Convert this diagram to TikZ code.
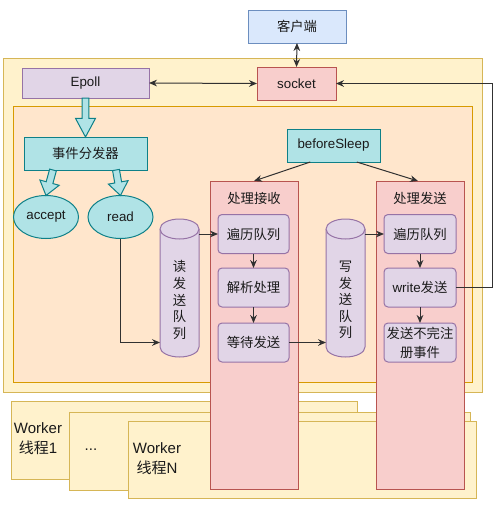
\documentclass[tikz,border=0pt]{standalone}
\usepackage{fontspec}
\setmainfont{Liberation Sans}
\newfontfamily\cjk{Noto Sans CJK SC}
\usetikzlibrary{calc,arrows.meta,shapes.geometric}
\definecolor{yfill}{HTML}{FFF2CC}\definecolor{ydraw}{HTML}{D6B656}
\definecolor{ofill}{HTML}{FFE6CC}\definecolor{odraw}{HTML}{D79B00}
\definecolor{pfill}{HTML}{E1D5E7}\definecolor{pdraw}{HTML}{9673A6}
\definecolor{rfill}{HTML}{F8CECC}\definecolor{rdraw}{HTML}{B85450}
\definecolor{tfill}{HTML}{B0E3E6}\definecolor{tdraw}{HTML}{0E8088}
\definecolor{bfill}{HTML}{DAE8FC}\definecolor{bdraw}{HTML}{6C8EBF}
\definecolor{ink}{HTML}{1A1A1A}
\tikzset{
  every node/.style={inner sep=0pt, outer sep=0pt, text=ink},
  bx/.style={draw, line width=0.75pt, font=\fontsize{10}{13}\selectfont},
  sz/.style 2 args={minimum width={#1*0.75pt}, minimum height={#2*0.75pt}},
  yel/.style={bx, fill=yfill, draw=ydraw},
  org/.style={bx, fill=ofill, draw=odraw},
  pur/.style={bx, fill=pfill, draw=pdraw},
  rnd/.style={pur, rounded corners=3pt},
  red/.style={bx, fill=rfill, draw=rdraw},
  tea/.style={bx, fill=tfill, draw=tdraw},
  blu/.style={bx, fill=bfill, draw=bdraw},
  lab/.style={font=\fontsize{10}{13}\selectfont},
  wlab/.style={font=\fontsize{11.25}{15}\selectfont, align=center},
  vlab/.style={font=\fontsize{10}{12.4}\selectfont\cjk, align=center},
  arr/.style={-{Stealth[length=6pt,width=5pt]}, line width=0.75pt, draw=ink!90},
  darr/.style={{Stealth[length=6pt,width=5pt]}-{Stealth[length=6pt,width=5pt]}, line width=0.75pt, draw=ink!90},
  flex/.style={fill=tfill, draw=tdraw, line width=0.75pt, line join=miter}
}
\newcommand\flexarrow[3]{%
  \coordinate (fa-h) at ($(#2)!#3!(#1)$);
  \filldraw[flex] ($(#1)!2.6pt!90:(#2)$) -- ($(fa-h)!2.6pt!-90:(#1)$) -- ($(fa-h)!7.5pt!-90:(#1)$) -- (#2)
     -- ($(fa-h)!7.5pt!90:(#1)$) -- ($(fa-h)!2.6pt!90:(#1)$) -- ($(#1)!2.6pt!-90:(#2)$) -- cycle;}
\newcommand\cylshape[1]{%
  \filldraw[pur] ($(#1.north west)+(0,10)$) -- ($(#1.south west)+(0,-10)$)
    arc[start angle=180,end angle=360,x radius=14.625pt,y radius=7.5pt]
    -- ($(#1.north east)+(0,10)$)
    arc[start angle=0,end angle=180,x radius=14.625pt,y radius=7.5pt] -- cycle;
  \draw[pur] ($(#1.north west)+(0,10)$) arc[start angle=180,end angle=360,x radius=14.625pt,y radius=7.5pt];}
\begin{document}
\begin{tikzpicture}[x=0.75pt,y=-0.75pt]
\useasboundingbox (0,0) rectangle (500,511);
% worker threads
\node[yel, sz={346}{78}] (w1) at (184,440) {};
\node[yel, sz={401}{78}] (w2) at (269.5,451) {};
\node[yel, sz={348}{77}] (w3) at (302,459.5) {};
\node[wlab] (w1t) at (38,439) {Worker\\{\cjk 线程}1};
\node[wlab] (w2t) at (91,450) {...};
\node[wlab] (w3t) at (157,458.5) {Worker\\{\cjk 线程}N};
% frames
\node[yel, sz={479}{334}] (outer) at (242.5,225) {};
\node[org, sz={459}{276}] (inner) at (242.5,244) {};
% top
\node[blu, sz={98}{33}] (client) at (297,26.5) {\cjk 客户端};
\node[red, sz={79}{33}] (socket) at (296.5,83.5) {socket};
\node[pur, sz={127}{30}] (epoll) at (85.5,83) {Epoll};
\node[tea, sz={123}{33}] (disp) at (85.5,153.5) {\cjk 事件分发器};
\node[tea, ellipse, sz={65}{43}] (accept) at (46,217) {accept};
\node[tea, ellipse, sz={65}{43}] (read) at (120.5,217) {read};
\node[tea, sz={93}{33}] (bs) at (333.5,145.5) {beforeSleep};
% processing boxes
\node[red, sz={88}{308}] (recv) at (254,335) {};
\node[red, sz={88}{308}] (send) at (420,335) {};
\node[lab] (recvt) at (254,198) {\cjk 处理接收};
\node[lab] (sendt) at (420,198) {\cjk 处理发送};
\node[rnd, sz={71}{39}] (r1) at (253.5,234) {\cjk 遍历队列};
\node[rnd, sz={71}{39}] (r2) at (253.5,287.5) {\cjk 解析处理};
\node[rnd, sz={71}{39}] (r3) at (253.5,342.5) {\cjk 等待发送};
\node[rnd, sz={72}{39}] (s1) at (420,234) {\cjk 遍历队列};
\node[rnd, sz={72}{39}] (s2) at (420,287.5) {write{\cjk 发送}};
\node[rnd, sz={72}{39}, align=center, font=\fontsize{10}{14.3}\selectfont\cjk] (s3) at (420,342.5) {发送不完注\\册事件};
% queues
\node[sz={39}{138}] (cyl1) at (179.5,288) {};
\node[sz={39}{138}] (cyl2) at (345.5,288) {};
\cylshape{cyl1}
\cylshape{cyl2}
\node[vlab] (cyl1t) at (179.5,300) {读\\发\\送\\队\\列};
\node[vlab] (cyl2t) at (345.5,300) {写\\发\\送\\队\\列};
% fat arrows
\flexarrow{epoll.south}{disp.north}{14pt}
\coordinate (fa1) at ($(disp.south west)+(29,0)$);
\coordinate (fa2) at ($(disp.south west)+(92,0)$);
\flexarrow{fa1}{accept.north}{10pt}
\flexarrow{fa2}{read.north}{10pt}
% connectors
\draw[darr] (client.south) -- (socket.north);
\draw[darr] (epoll.east) -- (socket.west);
\coordinate (rt) at (492,83.5);
\draw[arr] (s2.east) -| (rt) -- (socket.east);
\draw[arr] ($(bs.south west)!0.25!(bs.south east)$) -- (recv.north);
\draw[arr] ($(bs.south west)!0.75!(bs.south east)$) -- ($(send.north)+(-2,0)$);
\draw[arr] (read.south) |- (cyl1.west |- r3.east);
\draw[arr] (cyl1.east |- r1.west) -- (r1.west);
\draw[arr] (r1.south) -- (r2.north);
\draw[arr] (r2.south) -- (r3.north);
\draw[arr] (r3.east) -- (cyl2.west |- r3.east);
\draw[arr] (cyl2.east |- s1.west) -- (s1.west);
\draw[arr] (s1.south) -- (s2.north);
\draw[arr] (s2.south) -- (s3.north);
\end{tikzpicture}
\end{document}
